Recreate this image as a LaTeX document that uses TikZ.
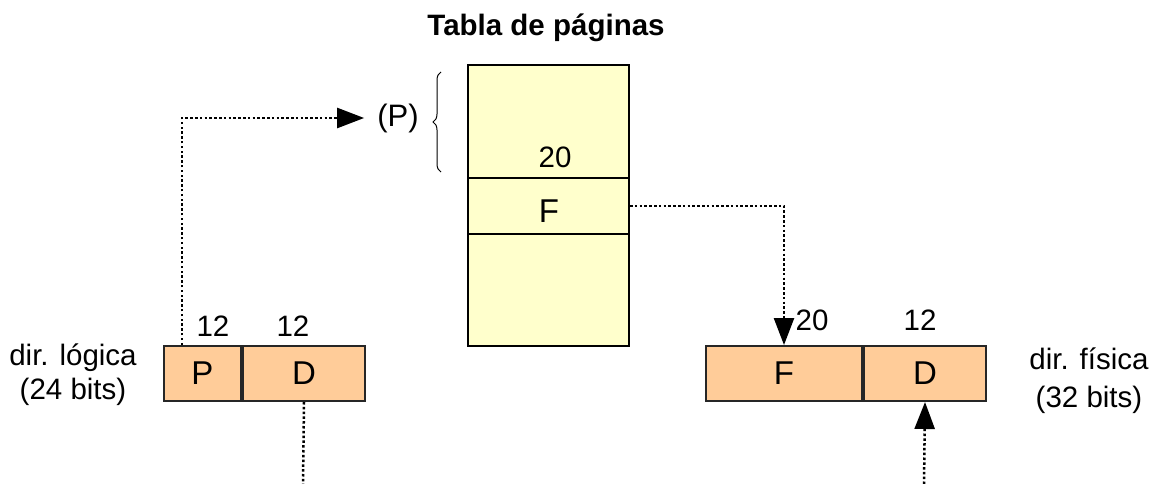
\documentclass[tikz,border=0pt]{standalone}
\usepackage{fontspec}
\setmainfont{Liberation Sans}
\usetikzlibrary{arrows.meta,decorations.pathreplacing,calc}
\definecolor{tabyellow}{HTML}{FFFFCC}
\definecolor{boxorange}{HTML}{FFCC99}
\tikzset{
  lbl/.style={inner sep=0pt, font=\fontsize{29.5}{34}\selectfont},
  tabcell/.style={draw=black, line width=2pt, fill=tabyellow, minimum width=161pt, inner sep=0pt, anchor=north},
  field/.style={draw=black!85, line width=2pt, fill=boxorange, minimum height=55pt, inner sep=0pt, font=\fontsize{33}{38}\selectfont, anchor=north west},
  dotline/.style={line width=2.5pt, dash pattern=on 2.5pt off 2.3pt},
  tip/.style={-{Triangle[length=27pt,width=20pt]}},
}
\begin{document}
\begin{tikzpicture}[x=1pt,y=-1pt]
\useasboundingbox (0,0) rectangle (1153,484);
% title
\node[lbl, font=\fontsize{29.5}{34}\selectfont\bfseries] (title) at (546,28) {Tabla de páginas};
% page table
\node[tabcell, minimum height=113pt] (tab1) at (548.5,64) {};
\node[tabcell, minimum height=56pt] (tab2) at (548.5,177) {};
\node[tabcell, minimum height=112pt] (tab3) at (548.5,233) {};
\node[lbl] (n20t) at (555,157) {20};
\node[lbl, font=\fontsize{33}{38}\selectfont] (ft) at (549,211) {F};
% brace and (P)
\draw[line width=1pt, decorate, decoration={brace, amplitude=8pt}] (441,172) -- (441,72);
\node[lbl, font=\fontsize{31}{36}\selectfont] (P) at (398,118) {(P)};
% logical address
\node[field, minimum width=77pt] (lp) at (163,345) {P};
\node[field, minimum width=122pt] (ld) at (242,345) {D};
\node[lbl] (l12a) at (213,326) {12};
\node[lbl] (l12b) at (293,326) {12};
\node[lbl, align=center, font=\fontsize{29.5}{34}\selectfont] (llab) at (73,375) {dir. lógica\\(24 bits)};
% physical address
\node[field, minimum width=156pt] (rf) at (705,345) {F};
\node[field, minimum width=122pt] (rd) at (863,345) {D};
\node[lbl] (r20) at (812,320) {20};
\node[lbl] (r12) at (920,320) {12};
\node[lbl, align=center, font=\fontsize{29.5}{38}\selectfont] (rlab) at (1089,381) {dir. física\\(32 bits)};
% connectors
\coordinate (pstart) at ($(lp.north west)+(19,0)$);
\draw[dotline, tip, shorten >=13pt] (pstart) |- (P.west);
\draw[dotline, tip] (tab2.east) -| (rf.north);
\coordinate (dbot) at (303,484);
\draw[dotline] (ld.south) -- (dbot);
\coordinate (rbot) at (924,484);
\draw[dotline, tip] (rbot) -- (rd.south);
\end{tikzpicture}
\end{document}
